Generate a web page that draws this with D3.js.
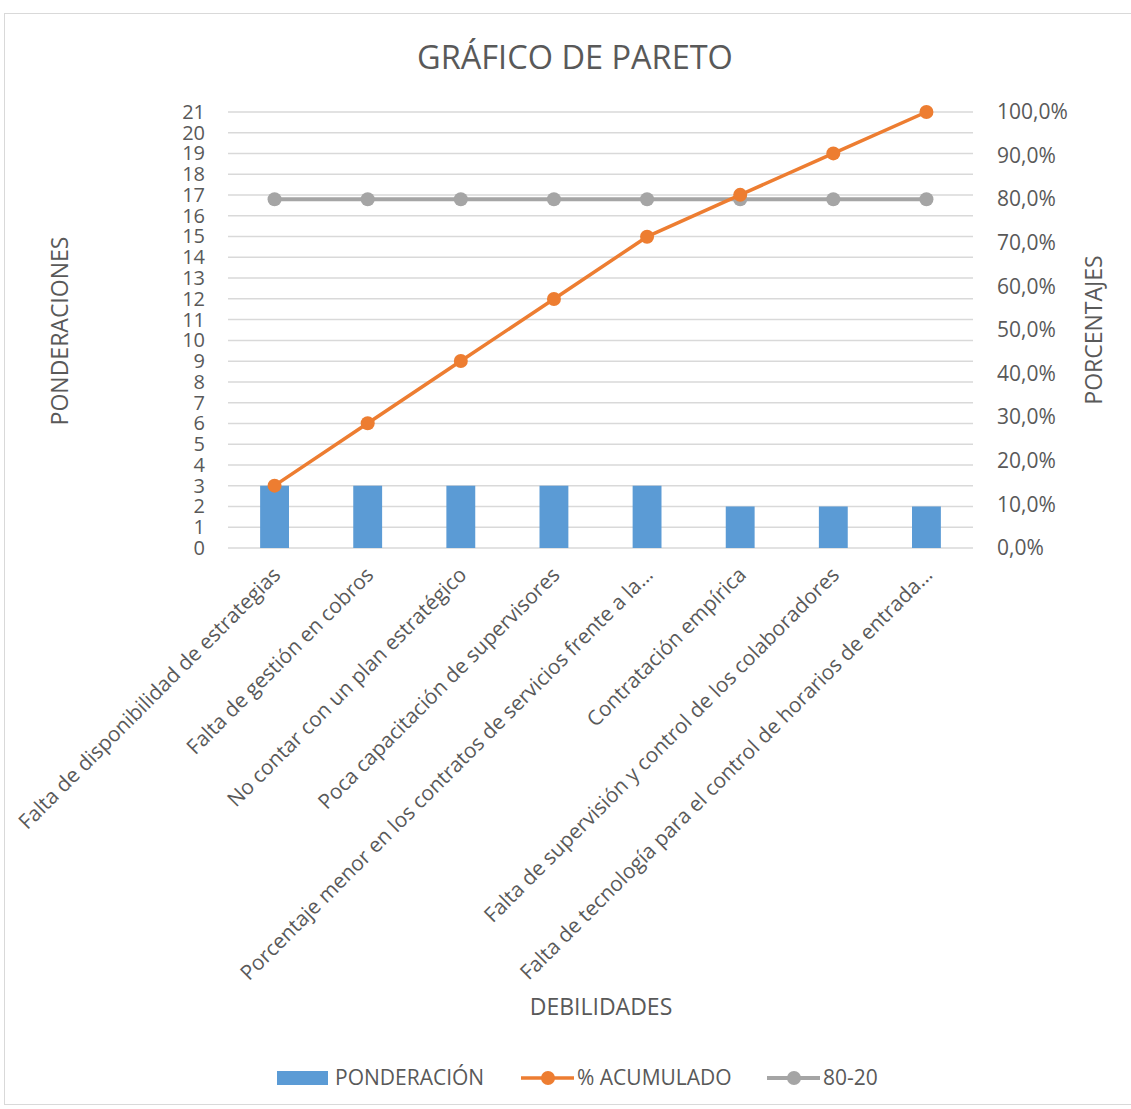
<!DOCTYPE html>
<html><head><meta charset="utf-8">
<script src="https://cdn.jsdelivr.net/npm/d3@7"></script>
<style>
body{margin:0;background:#fff;}
text{font-family:"Open Sans",sans-serif;fill:#595959;}
</style></head>
<body><svg id="c" width="1131" height="1109"></svg>
<script>
const categories = [
 "Falta de disponibilidad de estrategias",
 "Falta de gestión en cobros",
 "No contar con un plan estratégico",
 "Poca capacitación de supervisores",
 "Porcentaje menor en los contratos de servicios frente a la…",
 "Contratación empírica",
 "Falta de supervisión y control de los colaboradores",
 "Falta de tecnología para el control de horarios de entrada…"
];
const ponderacion = [3,3,3,3,3,2,2,2];
const acumulado = [0.143,0.286,0.429,0.571,0.714,0.810,0.905,1.0];
const linea8020 = [0.8,0.8,0.8,0.8,0.8,0.8,0.8,0.8];
const leftTicks = d3.range(0,22);
const rightTicks = [0,0.1,0.2,0.3,0.4,0.5,0.6,0.7,0.8,0.9,1.0];

const svg = d3.select("#c");
const L=228,R=973,T=112,B=548;
svg.append("rect").attr("x",4.5).attr("y",13.5).attr("width",1140).attr("height",1091)
  .attr("fill","#fff").attr("stroke","#d9d9d9").attr("stroke-width",1);

const x = d3.scaleBand().domain(categories).range([L,R]).paddingInner(0).paddingOuter(0);
const yL = d3.scaleLinear().domain([0,21]).range([B,T]);
const yR = d3.scaleLinear().domain([0,1]).range([B,T]);

// gridlines
svg.append("g").selectAll("line").data(leftTicks).join("line")
 .attr("x1",L).attr("x2",R).attr("y1",d=>yL(d)).attr("y2",d=>yL(d))
 .attr("stroke","#d9d9d9").attr("stroke-width",1.5);

// left axis
const ga = svg.append("g").attr("transform",`translate(${L},0)`)
 .call(d3.axisLeft(yL).tickValues(leftTicks).tickSize(0).tickPadding(23).tickFormat(d3.format("d")));
ga.select(".domain").remove();
ga.selectAll("text").style("font-family","'Open Sans',sans-serif").style("font-size","20px").attr("fill","#595959");

// right axis
const gr = svg.append("g").attr("transform",`translate(${R},0)`)
 .call(d3.axisRight(yR).tickValues(rightTicks).tickSize(0).tickPadding(24)
   .tickFormat(d=>(d*100).toFixed(1).replace(".",",")+"%"));
gr.select(".domain").remove();
gr.selectAll("text").style("font-family","'Open Sans',sans-serif").style("font-size","21px").attr("fill","#595959");

// bars
const bw = x.bandwidth()*0.31;
svg.append("g").selectAll("rect").data(ponderacion).join("rect")
 .attr("x",(d,i)=>x(categories[i])+x.bandwidth()/2-bw/2)
 .attr("width",bw).attr("y",d=>yL(d)).attr("height",d=>B-yL(d)).attr("fill","#5B9BD5");

const cx = i=>x(categories[i])+x.bandwidth()/2;
function drawLine(data,color,w){
  svg.append("path").datum(data)
   .attr("d",d3.line().x((d,i)=>cx(i)).y(d=>yR(d)))
   .attr("fill","none").attr("stroke",color).attr("stroke-width",w).attr("stroke-linejoin","round");
  svg.append("g").selectAll("circle").data(data).join("circle")
   .attr("cx",(d,i)=>cx(i)).attr("cy",d=>yR(d)).attr("r",7).attr("fill",color);
}
drawLine(linea8020,"#A5A5A5",4);
drawLine(acumulado,"#ED7D31",3.5);

// category labels
svg.append("g").selectAll("text").data(categories).join("text")
 .attr("transform",(d,i)=>`translate(${cx(i)+2},${571}) rotate(-45)`)
 .attr("text-anchor","end").attr("dy","0.35em")
 .style("font-size","20.8px").text(d=>d);

// title
svg.append("text").attr("x",575).attr("y",69).attr("text-anchor","middle")
 .style("font-size","32.5px").text("GRÁFICO DE PARETO");

// axis titles
svg.append("text").attr("transform","translate(68,331) rotate(-90)").attr("text-anchor","middle")
 .style("font-size","23px").text("PONDERACIONES");
svg.append("text").attr("transform","translate(1102,330) rotate(-90)").attr("text-anchor","middle")
 .style("font-size","23px").text("PORCENTAJES");
svg.append("text").attr("x",601).attr("y",1015).attr("text-anchor","middle")
 .style("font-size","23px").text("DEBILIDADES");

// legend
const lg = svg.append("g");
lg.append("rect").attr("x",277).attr("y",1071).attr("width",51).attr("height",14).attr("fill","#5B9BD5");
lg.append("text").attr("x",335).attr("y",1085).style("font-size","21px").text("PONDERACIÓN");
lg.append("line").attr("x1",521).attr("x2",574).attr("y1",1078).attr("y2",1078).attr("stroke","#ED7D31").attr("stroke-width",3.5);
lg.append("circle").attr("cx",548).attr("cy",1078).attr("r",7).attr("fill","#ED7D31");
lg.append("text").attr("x",577).attr("y",1085).style("font-size","21px").text("% ACUMULADO");
lg.append("line").attr("x1",767).attr("x2",820).attr("y1",1078).attr("y2",1078).attr("stroke","#A5A5A5").attr("stroke-width",4);
lg.append("circle").attr("cx",794).attr("cy",1078).attr("r",7).attr("fill","#A5A5A5");
lg.append("text").attr("x",823).attr("y",1085).style("font-size","21px").text("80-20");
</script></body></html>
